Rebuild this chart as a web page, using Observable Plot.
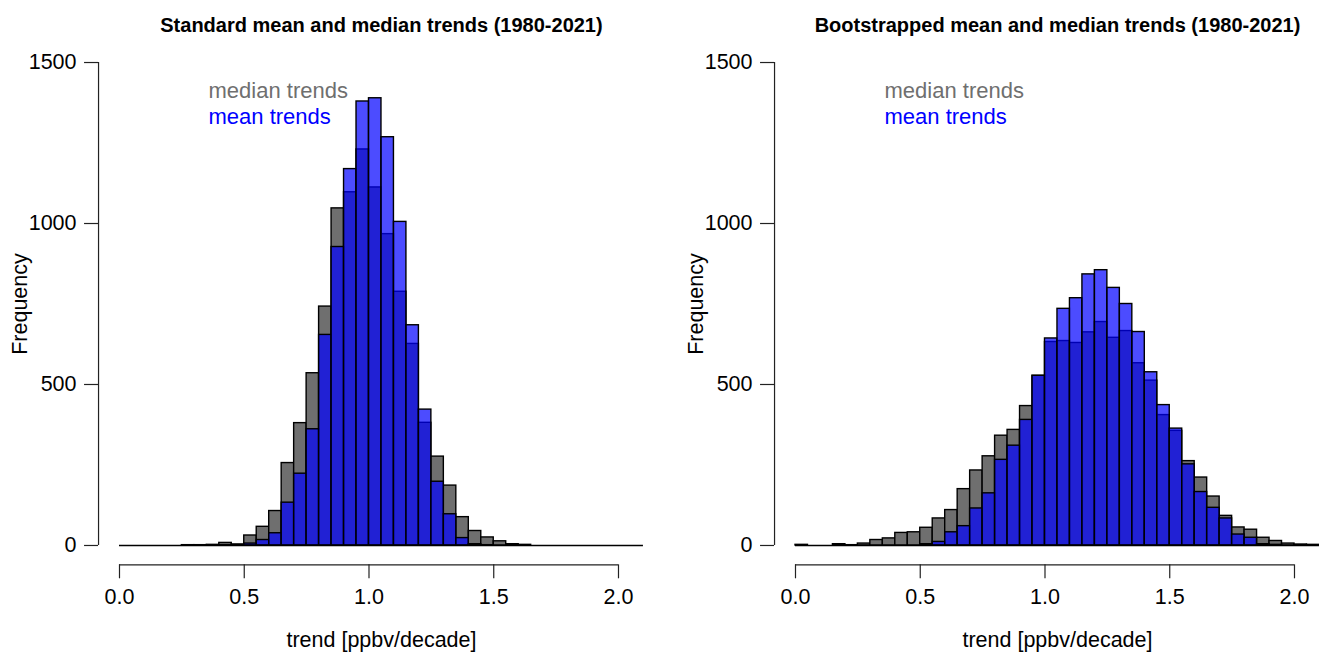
<!DOCTYPE html>
<html><head><meta charset="utf-8">
<script src="https://cdn.jsdelivr.net/npm/d3@7"></script>
<script src="https://cdn.jsdelivr.net/npm/@observablehq/plot@0.6"></script>
<style>
html,body{margin:0;padding:0;background:#fff;width:1319px;height:655px;overflow:hidden;}
#wrap{position:relative;width:1319px;height:655px;overflow:hidden;background:#fff;}
.panel{position:absolute;top:0;}
</style></head>
<body><div id="wrap"></div>
<script>
// ---- data ----
const binWidth = 0.05;
const binLower = [0.00,0.05,0.10,0.15,0.20,0.25,0.30,0.35,0.40,0.45,0.50,0.55,0.60,0.65,0.70,0.75,0.80,0.85,0.90,0.95,
                  1.00,1.05,1.10,1.15,1.20,1.25,1.30,1.35,1.40,1.45,1.50,1.55,1.60,1.65,1.70,1.75,1.80,1.85,1.90,1.95,2.00,2.05];
const leftMedian = [0,0,0,0,0,1,1,2,8,3,31,58,107,256,380,535,742,1047,1097,1230,
                    1112,967,788,626,381,276,186,88,45,25,13,4,2,0,0,0,0,0,0,0,0,0];
const leftMean   = [0,0,0,0,0,0,0,0,1,2,6,17,38,133,223,361,654,927,1169,1379,
                    1389,1268,1005,684,422,198,97,23,4,1,0,0,0,0,0,0,0,0,0,0,0,0];
const rightMedian = [2,0,0,4,1,6,17,22,39,41,55,84,110,175,233,277,341,359,433,527,
                     632,635,629,662,694,645,666,566,512,405,356,262,211,152,92,56,49,24,14,6,3,2];
const rightMean   = [0,0,0,0,0,0,0,0,0,0,4,11,41,60,115,162,266,310,390,527,
                     643,735,768,842,855,800,750,663,538,436,363,252,166,117,84,34,24,4,2,0,0,0];
const yTicks = [0, 500, 1000, 1500];
const xTicks = [0, 0.5, 1.0, 1.5, 2.0];
const titles = ["Standard mean and median trends (1980-2021)", "Bootstrapped mean and median trends (1980-2021)"];
const xLabel = "trend [ppbv/decade]";
const yLabel = "Frequency";
const legendLabels = ["median trends", "mean trends"];

// ---- style ----
const FONT = "'Liberation Sans', Arial, Helvetica, sans-serif";
const medianFill = "#6f6f6f";
const meanFill = "#0000ff";
const xMax = binLower[binLower.length - 1] + binWidth;
const xPad = 0.04 * xMax;
const yPad = 0.04 * yTicks[yTicks.length - 1];
const xDomain = [0 - xPad, xMax + xPad];
const yDomain = [0 - yPad, yTicks[yTicks.length - 1] + yPad];

function panel(title, median, mean, o) {
  const rows = binLower.map((lo, i) => ({lo, hi: lo + binWidth, median: median[i], mean: mean[i]}));
  const fig = Plot.plot({
    width: 680, height: 655,
    marginLeft: o.marginLeft, marginRight: o.marginRight, marginTop: 42.7, marginBottom: 90.7,
    x: {domain: xDomain},
    y: {domain: yDomain},
    style: {fontFamily: FONT, background: "transparent", overflow: "visible", maxWidth: "none", color: "#000"},
    marks: [
      Plot.rectY(rows, {x1: "lo", x2: "hi", y: "median", fill: medianFill, stroke: "#000", strokeWidth: 1.4}),
      Plot.rectY(rows, {x1: "lo", x2: "hi", y: "mean", fill: meanFill, fillOpacity: 0.7, stroke: "#000", strokeWidth: 1.4}),
      Plot.ruleY([0], {x1: binLower[0], x2: xMax, stroke: "#000", strokeWidth: 1.4}),
      Plot.ruleX([xDomain[0]], {y1: yTicks[0], y2: yTicks[yTicks.length - 1], stroke: "#222", strokeWidth: 1.2}),
      Plot.ruleY([yDomain[0]], {x1: xTicks[0], x2: xTicks[xTicks.length - 1], stroke: "#222", strokeWidth: 1.2}),
      Plot.axisY({ticks: yTicks, tickSize: 14, tickPadding: 8, fontSize: 21.5, tickFormat: d3.format("d"), label: null, stroke: "#222", strokeWidth: 1.2}),
      Plot.axisX({ticks: xTicks, tickSize: 14, tickPadding: 10, fontSize: 21.5, tickFormat: d3.format(".1f"), label: null, stroke: "#222", strokeWidth: 1.2}),
      Plot.text([title], {text: d => d, frameAnchor: "top", lineAnchor: "middle", dy: -17.7, fontWeight: "bold", fontSize: 20, fill: "#000"}),
      Plot.text([yLabel], {text: d => d, frameAnchor: "left", lineAnchor: "middle", textAnchor: "middle", dx: -78, rotate: -90, fontSize: 21.5, fill: "#000"}),
      Plot.text([xLabel], {text: d => d, frameAnchor: "bottom", lineAnchor: "middle", dy: 75.5, fontSize: 21.5, fill: "#000"}),
      Plot.text([legendLabels[0]], {text: d => d, frameAnchor: "top-left", lineAnchor: "middle", dx: 110, dy: 47.6, textAnchor: "start", fill: medianFill, fontSize: 22}),
      Plot.text([legendLabels[1]], {text: d => d, frameAnchor: "top-left", lineAnchor: "middle", dx: 110, dy: 73.6, textAnchor: "start", fill: meanFill, fontSize: 22})
    ]
  });
  fig.classList.add("panel");
  fig.style.left = o.left + "px";
  return fig;
}

const wrap = document.getElementById("wrap");
wrap.appendChild(panel(titles[0], leftMedian, leftMean, {left: 0, marginLeft: 98.04, marginRight: 16.1}));
wrap.appendChild(panel(titles[1], rightMedian, rightMean, {left: 660, marginLeft: 114.04, marginRight: 0.1}));
</script>
</body></html>
